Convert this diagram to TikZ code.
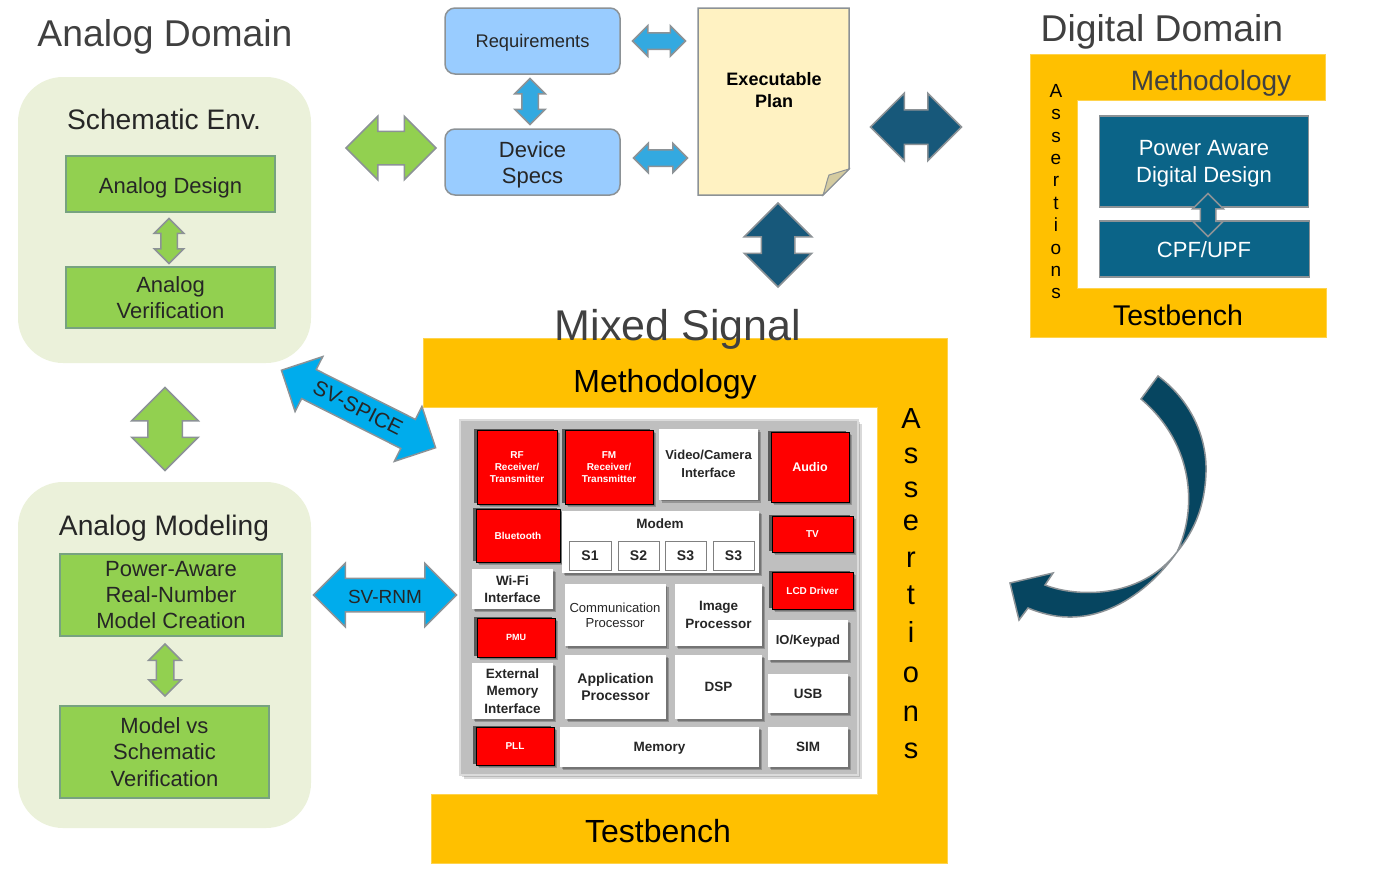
\documentclass[tikz,border=0pt]{standalone}
\usepackage{fontspec}
\setmainfont{Liberation Sans}
\usetikzlibrary{shapes.arrows,shadows}
\definecolor{panelgreen}{HTML}{EBF1DA}
\definecolor{boxgreen}{HTML}{92D050}
\definecolor{boxblue}{HTML}{99CCFF}
\definecolor{boxteal}{HTML}{0B6488}
\definecolor{bandyellow}{HTML}{FFC000}
\definecolor{plancream}{HTML}{FFF2C2}
\definecolor{planfold}{HTML}{D4CBA0}
\definecolor{arrowsky}{HTML}{00ACEC}
\definecolor{arrowblue}{HTML}{33A9E0}
\definecolor{arrowdark}{HTML}{17587A}
\definecolor{arrowdeep}{HTML}{064560}
\definecolor{edgegrey}{HTML}{8C9296}
\definecolor{titlegrey}{HTML}{404040}
\newcommand{\fs}[2]{\fontsize{#1}{#2}\selectfont}
\tikzset{
  plainbox/.style={inner sep=0pt,outer sep=0pt,align=center},
  sized/.style 2 args={minimum width=#1,minimum height=#2},
  downtxt/.style={execute at begin node={\rule{0pt}{#1}}},
  lowtxt/.style={text height=1.1em,text depth=.2em},
  txtlbl/.style={plainbox,text=black!85},
  headtxt/.style={plainbox,text=titlegrey,font=\fs{37.3}{42}},
  letter/.style={plainbox,anchor=base},
  panel/.style={plainbox,fill=panelgreen,rounded corners=45pt},
  greenbox/.style={plainbox,draw=edgegrey!85!green,line width=1.5pt,fill=boxgreen,text=black!85,font=\fs{22}{26.3}},
  bluebox/.style={plainbox,draw=edgegrey,line width=1.5pt,fill=boxblue,rounded corners=10pt,text=black!85},
  tealbox/.style={plainbox,draw=edgegrey,line width=1.5pt,fill=boxteal,text=white},
  band/.style={fill=bandyellow,draw=bandyellow!70!white,line width=1pt},
  softshadow/.style={general shadow={fill=black,opacity=.22,shadow xshift=1.5pt,shadow yshift=-1.5pt},
    general shadow={fill=black,opacity=.22,shadow xshift=3pt,shadow yshift=-3pt}},
  redblk/.style={plainbox,fill=red,draw=black,line width=1pt,text=white,font=\bfseries\fs{10}{12},
    softshadow,general shadow={fill=black!65,shadow xshift=-3.5pt,shadow yshift=1pt}},
  whiteblk/.style={plainbox,fill=white,text=black!85,font=\bfseries\fs{13.5}{17.5},softshadow},
  slice/.style={plainbox,fill=white,draw=black!50,line width=1pt,text=black!85,font=\bfseries\fs{14}{17}},
  dblarrow/.style n args={3}{shape=double arrow,outer sep=0pt,inner xsep=0pt,inner ysep=0.5*#3,
    minimum height=#1-1,double arrow head extend=0.5*#2-0.5*#3-1,draw=edgegrey,line width=1.5pt},
}
\begin{document}
\begin{tikzpicture}[x=1pt,y=-1pt]
  \useasboundingbox (0,0) rectangle (1375,876);

  %% analog side
  \node[headtxt] (analogtitle) at (165,36.5) {Analog Domain};
  \node[panel,sized={293}{286}] (schematic) at (164.5,220) {};
  \node[panel,sized={293}{346}] (modeling) at (164.5,655) {};
  \node[txtlbl,font=\fs{28.2}{32}] (schematictxt) at (164,119.5) {Schematic Env.};
  \node[greenbox,sized={209}{56},downtxt=23pt] (design) at (170.5,184) {Analog Design};
  \node[greenbox,sized={209}{61},downtxt=20pt] (verif) at (170.5,297.5) {Analog\\Verification};
  \node[dblarrow={46}{30}{15},fill=boxgreen,rotate=90] (designarrow) at (169,241) {};
  \node[dblarrow={84}{67}{33},fill=boxgreen,rotate=90] (modelarrow) at (165,429) {};
  \node[txtlbl,font=\fs{28.2}{32}] (modelingtxt) at (164,528) {Analog Modeling};
  \node[greenbox,sized={222}{82},downtxt=19pt] (rnmbox) at (171,595) {Power-Aware\\Real-Number\\Model Creation};
  \node[greenbox,sized={209}{92},downtxt=18pt] (vsbox) at (164.5,752) {Model vs\\Schematic\\Verification};
  \node[dblarrow={53}{33}{16},fill=boxgreen,rotate=90] (rnmarrow) at (165,670) {};

  %% plan
  \node[dblarrow={91}{64}{32},fill=boxgreen] (planarrow) at (391,148) {};
  \node[bluebox,sized={175}{66},font=\fs{18.3}{22},downtxt=17pt] (reqs) at (532.5,41) {Requirements};
  \node[bluebox,sized={175}{66}] (specs) at (532.5,162) {};
  \node[txtlbl,font=\fs{22}{26}] (specstxt) at (532.5,165) {Device\\Specs};
  \node[dblarrow={47}{31}{15},fill=arrowblue,rotate=90] (reqsarrow) at (530,101.5) {};
  \node[dblarrow={54}{31}{15},fill=arrowblue] (reqsplan) at (659,41) {};
  \node[dblarrow={55}{30}{15},fill=arrowblue] (specsplan) at (660.5,158) {};
  \draw[fill=plancream,draw=edgegrey,line width=1.5pt] (698,8) -- (849,8) -- (849,169) -- (823,195) -- (698,195) -- cycle;
  \draw[fill=planfold,draw=edgegrey,line width=1pt] (823,195) .. controls (826,186) and (827,180) .. (829,175) .. controls (836,173) and (842,171) .. (849,169) -- cycle;
  \node[txtlbl,text=black,font=\bfseries\fs{18}{22}] (plan) at (774,90) {Executable\\Plan};
  \node[dblarrow={92}{68}{33},fill=arrowdark] (digitalarrow) at (916,127) {};
  \node[dblarrow={85}{68}{32},fill=arrowdark,rotate=90] (mixedarrow) at (778,245) {};

  %% digital side
  \node[headtxt] (digitaltitle) at (1162,31.5) {Digital Domain};
  \draw[band] (1030,54) -- (1325,54) -- (1325,100) -- (1077,100) -- (1077,288) -- (1326,288) -- (1326,337) -- (1030,337) -- cycle;
  \node[txtlbl,text=titlegrey,font=\fs{28}{32}] (digitalmeth) at (1211,83.5) {Methodology};
  \node[txtlbl,text=black,font=\fs{28.5}{32}] (digitalbench) at (1178,315) {Testbench};
  \foreach \ch/\yy [count=\i] in {A/97,s/119,s/142,e/164,r/186,t/209,i/231,o/254,n/276,s/298}
    \node[letter,font=\fs{19}{22}] (dl\i) at (1056,\yy) {\ch};
  \node[tealbox,sized={209}{91},anchor=north west] (padesign) at (1099.5,116) {};
  \node[plainbox,text=white,font=\fs{22}{27}] (padesigntxt) at (1204,164) {Power Aware\\Digital Design};
  \node[tealbox,sized={210}{56},anchor=north west] (cpf) at (1099.5,221) {};
  \node[plainbox,text=white,font=\fs{22}{26}] (cpftxt) at (1204,249.5) {CPF/UPF};
  \node[dblarrow={44}{31}{14},fill=boxteal,rotate=90] (cpfarrow) at (1208,215) {};

  %% back to mixed
  \draw[fill=arrowdeep,draw=edgegrey,line width=1.5pt] (1158,376) .. controls (1193,402) and (1207,440) .. (1206,472)
    .. controls (1205,505) and (1195,530) .. (1177,552)
    .. controls (1150,590) and (1110,618) .. (1068,617)
    .. controls (1055,617) and (1040,613) .. (1028,608)
    -- (1019,620) -- (1010,583) -- (1053,573) -- (1045,585)
    .. controls (1075,597) and (1140,600) .. (1177,552)
    .. controls (1197,510) and (1195,445) .. (1141,399) -- cycle;

  %% mixed signal frame
  \draw[band] (423,338) -- (947,338) -- (947,863) -- (431,863) -- (431,794) -- (877,794) -- (877,407) -- (423,407) -- cycle;
  \node[headtxt,font=\fs{43}{50}] (mixedtitle) at (678,329) {Mixed Signal};
  \node[txtlbl,text=black,font=\fs{32}{36}] (mixedmeth) at (665,384) {Methodology};
  \node[txtlbl,text=black,font=\fs{32}{36}] (mixedbench) at (658,831) {Testbench};
  \foreach \ch/\yy [count=\i] in {A/428,s/463,s/497,e/530,r/567,t/604,i/642,o/682,n/721,s/758}
    \node[letter,font=\fs{29}{32}] (ml\i) at (911,\yy) {\ch};

  %% links
  \node[dblarrow={173.5}{62}{31},fill=arrowsky,rotate=-26.7] (spicearrow) at (358.5,409) {};
  \node[plainbox,rotate=-26.7,text=black!85,font=\fs{21}{25}] (spicetxt) at (358,408) {SV-SPICE};
  \node[dblarrow={144}{64}{32},fill=arrowsky] (rnmlink) at (385,595) {};
  \node[plainbox,text=black!85,font=\fs{19}{23}] (rnmtxt) at (385,597) {SV-RNM};

  %% chip
  \node[plainbox,sized={398}{355},fill=black!25,draw=black!14,line width=1.5pt,
    general shadow={fill=black,opacity=.15,shadow xshift=2pt,shadow yshift=-2pt},
    general shadow={fill=black,opacity=.15,shadow xshift=4pt,shadow yshift=-4pt}] (chip) at (659,597.5) {};
  \node[redblk,sized={80}{74}] (rf) at (517,467) {RF\\Receiver/\\Transmitter};
  \node[redblk,sized={88}{74}] (fm) at (609,467) {FM\\Receiver/\\Transmitter};
  \node[whiteblk,sized={99}{71},font=\bfseries\fs{13}{18}] (video) at (708.5,464) {Video/Camera\\Interface};
  \node[redblk,sized={78}{70},font=\bfseries\fs{12.5}{15}] (audio) at (810,467) {Audio};
  \node[redblk,sized={84}{53}] (bluetooth) at (518,535.5) {Bluetooth};
  \node[whiteblk,sized={197}{62}] (modem) at (660.5,542) {};
  \node[plainbox,text=black!85,font=\bfseries\fs{13.5}{16}] (modemtxt) at (660,524) {Modem};
  \foreach \nm/\cx/\bw/\lbl in {sa/590/42/S1,sb/638.5/41/S2,sc/685.5/41/S3,sd/733.5/41/S3}
    \node[slice,sized={\bw}{29}] (\nm) at (\cx,555.5) {\lbl};
  \node[redblk,sized={81}{36}] (tv) at (812.5,534) {TV};
  \node[redblk,sized={81}{37}] (lcd) at (812.5,590.5) {LCD Driver};
  \node[whiteblk,sized={81}{40}] (wifi) at (512.5,589) {Wi-Fi\\Interface};
  \node[whiteblk,sized={101}{62},font=\fs{13.1}{15}] (comm) at (615,615) {Communication\\Processor};
  \node[whiteblk,sized={87}{62}] (image) at (718.5,615) {Image\\Processor};
  \node[whiteblk,sized={80}{40},font=\bfseries\fs{13}{17},lowtxt] (keypad) at (808,640) {IO/Keypad};
  \node[redblk,sized={78}{39},font=\bfseries\fs{9}{11}] (pmu) at (516,637.5) {PMU};
  \node[whiteblk,sized={81}{56}] (extmem) at (512.5,691) {External\\Memory\\Interface};
  \node[whiteblk,sized={101}{64},font=\bfseries\fs{14}{17}] (app) at (615.5,687) {Application\\Processor};
  \node[whiteblk,sized={87}{64}] (dsp) at (718.5,687) {DSP};
  \node[whiteblk,sized={80}{39}] (usb) at (808,693.5) {USB};
  \node[redblk,sized={78}{38}] (pll) at (515,746) {PLL};
  \node[whiteblk,sized={199}{40},lowtxt] (memory) at (659.5,747) {Memory};
  \node[whiteblk,sized={80}{40},lowtxt] (sim) at (808,747) {SIM};
\end{tikzpicture}
\end{document}
